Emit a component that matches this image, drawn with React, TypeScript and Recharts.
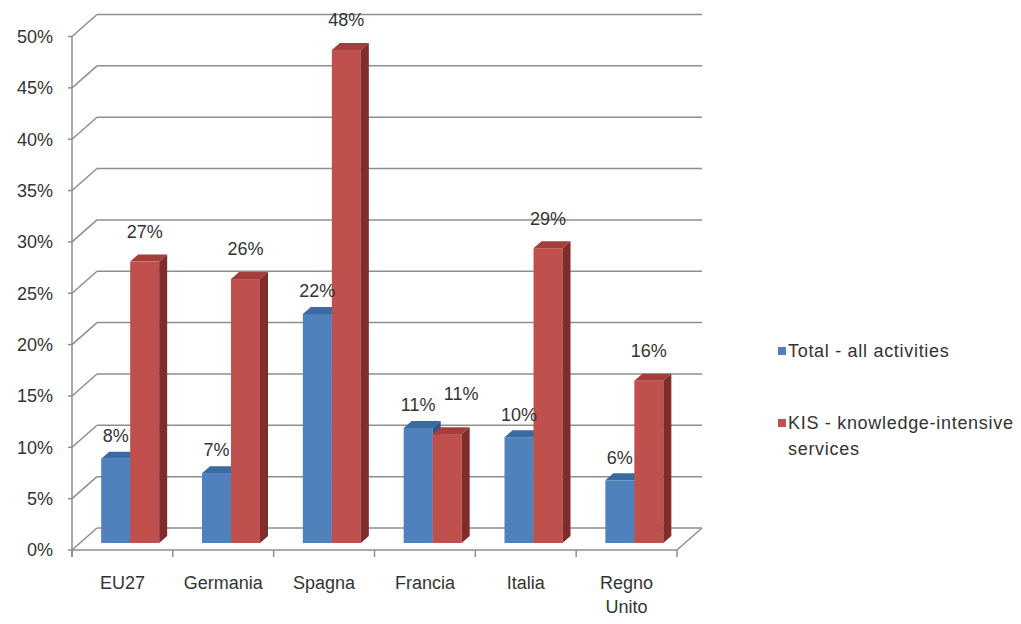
import { Bar, BarChart, CartesianGrid, LabelList, Legend, XAxis, YAxis } from "recharts";

// values (percent)
const categories = ["EU27", "Germania", "Spagna", "Francia", "Italia", "Regno Unito"];
const totalAll = [8.2, 6.8, 22.3, 11.2, 10.3, 6.1];
const kisServices = [27.4, 25.7, 48.0, 10.6, 28.7, 15.8];
const yTicks = [0, 5, 10, 15, 20, 25, 30, 35, 40, 45, 50];
const seriesNames = ["Total - all activities", "KIS - knowledge-intensive services"];

const data = categories.map((name, i) => ({ name, total: totalAll[i], kis: kisServices[i] }));

/** chart geometry: the bars sit in a middle plane, front axis and back wall are offset from it */
const W = 1021;
const H = 624;
const PLOT = { left: 80, top: 29.5, right: 685, bottom: 543 };
const Y_W = 60;
const X_H = 40;
const BAR_D = { x: 8, y: 7 };
const FRONT = { x: -8, y: 7 };
const BACK = { x: 17, y: -15 };
const GRID = "#8e8e8e";
const FONT = "'Liberation Sans', Arial, sans-serif";
const FS = 18;
const TEXT = "#333333";

const COLORS = {
  total: { front: "#4f81bd", top: "#3b6aa3", side: "#2f5688" },
  kis: { front: "#c0504d", top: "#a43e3b", side: "#7f2c2a" },
};

function makeShape(c: { front: string; top: string; side: string }) {
  return (p: any) => {
    const { x, y, width: w, height: h } = p;
    if (h == null || w == null) return <g />;
    const dx = BAR_D.x;
    const dy = BAR_D.y;
    return (
      <g>
        <rect x={x} y={y} width={w} height={h} fill={c.front} />
        <polygon points={`${x},${y} ${x + dx},${y - dy} ${x + w + dx},${y - dy} ${x + w},${y}`} fill={c.top} />
        <polygon
          points={`${x + w},${y} ${x + w + dx},${y - dy} ${x + w + dx},${y + h - dy} ${x + w},${y + h}`}
          fill={c.side}
        />
      </g>
    );
  };
}

// red labels get nudged up/right when both bars of a category are nearly equal (as in the source)
function makeLabel(offset: number, other?: number[]) {
  return (p: any) => {
    const { x, y, width, value, index } = p;
    const crowded = other && Math.abs(other[index] - value) < 2;
    return (
      <text
        x={x + width / 2 + (crowded ? 14 : 0)}
        y={y - offset - (crowded ? 10 : 0)}
        textAnchor="middle"
        dy="0.35em"
        fontFamily={FONT}
        fontSize={FS}
        fill={TEXT}
      >
        {`${Math.round(value)}%`}
      </text>
    );
  };
}

// back wall gridline + diagonal to the front axis, floor drawn with the 0% line
const gridLine = (p: any) => {
  const { x1, x2, y1 } = p;
  const fx = x1 + FRONT.x;
  const fy = y1 + FRONT.y;
  const bx = x1 + BACK.x;
  const by = y1 + BACK.y;
  const bx2 = x2 + BACK.x;
  const isFloor = Math.abs(y1 - PLOT.bottom) < 0.5;
  return (
    <g key={`grid-${y1}`} stroke={GRID} strokeWidth={1.5} fill="none">
      <line x1={bx} y1={by} x2={bx2} y2={by} />
      <line x1={fx} y1={fy} x2={bx} y2={by} />
      <line x1={fx - 4} y1={fy} x2={fx} y2={fy} />
      {isFloor && (
        <>
          <line x1={fx} y1={fy} x2={x2 + FRONT.x} y2={fy} />
          <line x1={x2 + FRONT.x} y1={fy} x2={bx2} y2={by} />
          <line x1={fx} y1={PLOT.top + FRONT.y} x2={fx} y2={fy + 7} />
        </>
      )}
    </g>
  );
};

const YTick = (p: any) => {
  const { y, payload } = p;
  return (
    <text
      x={PLOT.left + FRONT.x - 19}
      y={y + FRONT.y}
      dy="0.35em"
      textAnchor="end"
      fontFamily={FONT}
      fontSize={FS}
      fill={TEXT}
    >
      {`${payload.value}%`}
    </text>
  );
};

const XTick = (p: any) => {
  const { x, payload, index } = p;
  const band = (PLOT.right - PLOT.left) / categories.length;
  const cx = x + FRONT.x;
  const fy = PLOT.bottom + FRONT.y;
  const lines = String(payload.value).split(" ");
  return (
    <g>
      <line x1={cx + band / 2} y1={fy} x2={cx + band / 2} y2={fy + 7} stroke={GRID} strokeWidth={1.5} />
      {index === 0 && <line x1={cx - band / 2} y1={fy} x2={cx - band / 2} y2={fy + 7} stroke={GRID} strokeWidth={1.5} />}
      <text x={cx} y={fy + 39} textAnchor="middle" fontFamily={FONT} fontSize={FS} fill={TEXT}>
        {lines.map((l, i) => (
          <tspan key={l} x={cx} dy={i === 0 ? 0 : 24}>
            {l}
          </tspan>
        ))}
      </text>
    </g>
  );
};

function LegendBox() {
  const items = [
    { color: COLORS.total.front, lines: [seriesNames[0]] },
    { color: COLORS.kis.front, lines: ["KIS - knowledge-intensive", "services"] },
  ];
  return (
    <div style={{ fontFamily: FONT, fontSize: FS, letterSpacing: 0.7, color: TEXT, lineHeight: "26px" }}>
      {items.map((it, i) => (
        <div key={i} style={{ display: "flex", alignItems: "flex-start", marginBottom: i === 0 ? 46 : 0 }}>
          <span
            style={{ width: 8, height: 8, background: it.color, marginTop: 9, marginRight: 2, flex: "none" }}
          />
          <span style={{ whiteSpace: "nowrap" }}>
            {it.lines.map((l) => (
              <div key={l}>{l}</div>
            ))}
          </span>
        </div>
      ))}
    </div>
  );
}

export default function App() {
  return (
    <div style={{ position: "absolute", left: 0, top: 0, width: W, height: H, background: "#fff" }}>
      <BarChart
        width={W}
        height={H}
        data={data}
        margin={{ top: PLOT.top, right: W - PLOT.right, bottom: H - PLOT.bottom - X_H, left: PLOT.left - Y_W }}
        barCategoryGap="21%"
        barGap={0}
      >
        <CartesianGrid vertical={false} horizontal={gridLine} />
        <XAxis dataKey="name" height={X_H} interval={0} axisLine={false} tickLine={false} tick={XTick} />
        <YAxis
          width={Y_W}
          domain={[0, 50]}
          ticks={yTicks}
          interval={0}
          axisLine={false}
          tickLine={false}
          tick={YTick}
        />
        <Legend
          align="center"
          verticalAlign="middle"
          content={() => <LegendBox />}
          wrapperStyle={{ left: 778, top: 338, width: 243 }}
        />
        <Bar dataKey="total" name={seriesNames[0]} fill={COLORS.total.front} shape={makeShape(COLORS.total)} isAnimationActive={false}>
          <LabelList dataKey="total" content={makeLabel(23)} />
        </Bar>
        <Bar dataKey="kis" name={seriesNames[1]} fill={COLORS.kis.front} shape={makeShape(COLORS.kis)} isAnimationActive={false}>
          <LabelList dataKey="kis" content={makeLabel(30, totalAll)} />
        </Bar>
      </BarChart>
    </div>
  );
}
